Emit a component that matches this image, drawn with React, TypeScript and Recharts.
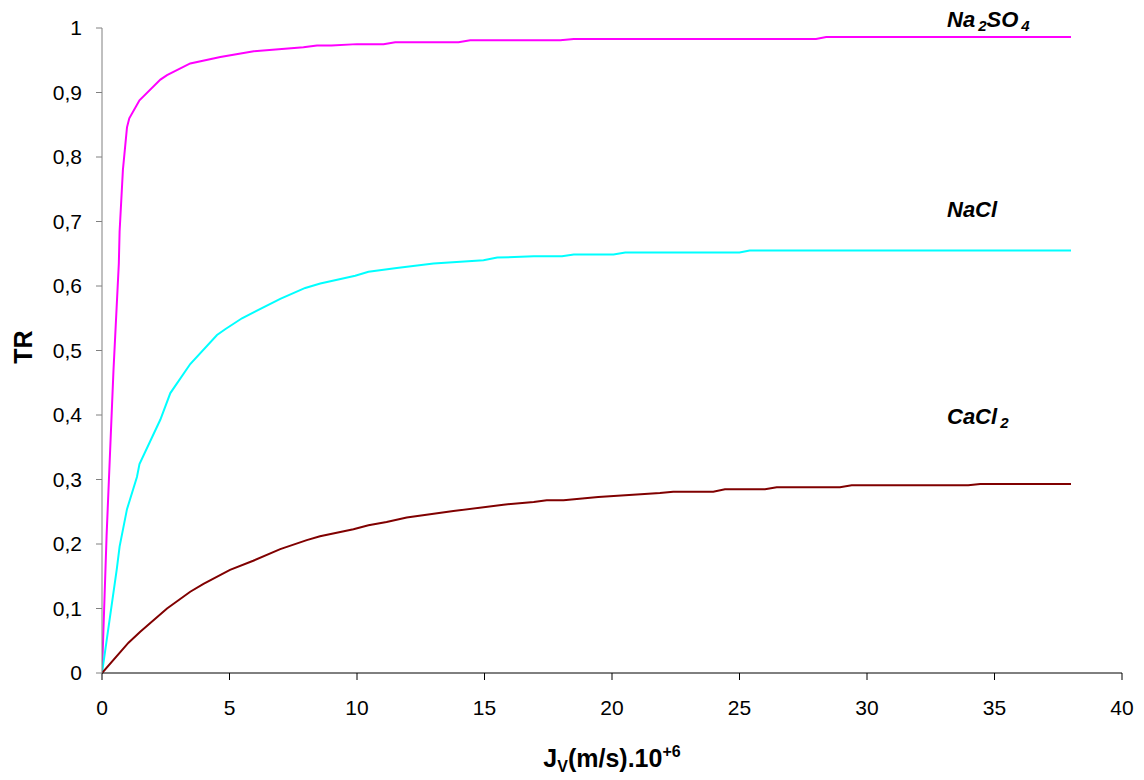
import { LineChart, Line, XAxis, YAxis, Customized } from "recharts";

// Na2SO4 (magenta)
const na2so4J = [0, 0.18, 0.45, 0.66, 0.69, 0.82, 0.98, 1.07, 1.47, 2.29, 2.55, 3.46, 4.64, 5.95, 7.9, 8.43, 9.0, 10.0, 11.04, 11.5, 13.98, 14.44, 17.97, 18.5, 28.0, 28.4, 38.0];
const na2so4TR = [0, 0.213, 0.469, 0.635, 0.684, 0.78, 0.846, 0.86, 0.888, 0.92, 0.927, 0.945, 0.955, 0.964, 0.97, 0.973, 0.973, 0.975, 0.975, 0.978, 0.978, 0.981, 0.981, 0.983, 0.983, 0.986, 0.986];

// NaCl (cyan)
const naclJ = [0, 0.58, 0.69, 0.98, 1.37, 1.47, 2.29, 2.68, 3.46, 4.51, 4.83, 5.49, 6.99, 7.97, 8.56, 9.93, 10.45, 11.56, 13.0, 14.96, 15.5, 16.93, 18.04, 18.5, 20.06, 20.52, 25.0, 25.4, 38.0];
const naclTR = [0, 0.161, 0.196, 0.254, 0.304, 0.324, 0.393, 0.434, 0.479, 0.524, 0.533, 0.55, 0.58, 0.597, 0.604, 0.616, 0.622, 0.628, 0.635, 0.64, 0.644, 0.646, 0.646, 0.649, 0.649, 0.652, 0.652, 0.655, 0.655];

// CaCl2 (dark red)
const cacl2J = [0, 1.04, 1.5, 2.55, 3.46, 3.98, 5.02, 5.93, 6.99, 8.03, 8.55, 9.86, 10.45, 11.16, 11.95, 13.78, 15.74, 16.93, 17.44, 18.1, 19.46, 21.88, 22.4, 23.97, 24.43, 26.0, 26.46, 28.94, 29.4, 33.97, 34.44, 38.0];
const cacl2TR = [0, 0.047, 0.064, 0.1, 0.126, 0.138, 0.16, 0.174, 0.192, 0.206, 0.212, 0.223, 0.229, 0.234, 0.241, 0.251, 0.261, 0.265, 0.268, 0.268, 0.273, 0.279, 0.281, 0.281, 0.285, 0.285, 0.288, 0.288, 0.291, 0.291, 0.293, 0.293];

const xTicks = [0, 5, 10, 15, 20, 25, 30, 35, 40];
const yTicks = [0, 0.1, 0.2, 0.3, 0.4, 0.5, 0.6, 0.7, 0.8, 0.9, 1];

const FONT = '"Liberation Sans", Arial, sans-serif';

const toPoints = (js: number[], trs: number[]) => js.map((j, i) => ({ j, tr: trs[i] }));

const comma = (v: number) => String(v).replace(".", ",");

function Annotations() {
  const lbl = { fontFamily: FONT, fontSize: 22, fontWeight: 700, fontStyle: "italic", fill: "#000" };
  return (
    <g>
      <text x={939} y={19} {...lbl}>
        Na<tspan dx={3} dy={4} fontSize={15}>2</tspan>
        <tspan dy={-4}>SO</tspan>
        <tspan dx={3} dy={4} fontSize={15}>4</tspan>
      </text>
      <text x={939} y={209} {...lbl}>NaCl</text>
      <text x={939} y={416} {...lbl}>
        CaCl<tspan dx={3} dy={4} fontSize={15}>2</tspan>
      </text>

      <text x={604} y={759} textAnchor="middle" fontFamily={FONT} fontSize={25} fontWeight={700} fill="#000">
        J<tspan dy={5} fontSize={16}>V</tspan>
        <tspan dy={-5}>(m/s).10</tspan>
        <tspan dy={-10} fontSize={16}>+6</tspan>
      </text>

      <text
        x={24}
        y={339}
        textAnchor="middle"
        transform="rotate(-90, 24, 339)"
        fontFamily={FONT}
        fontSize={25}
        fontWeight={700}
        fill="#000"
      >
        TR
      </text>
    </g>
  );
}

export default function App() {
  return (
    <LineChart
      width={1136}
      height={770}
      margin={{ top: 20, right: 22, left: 34, bottom: 15 }}
      style={{ fontFamily: FONT }}
    >
      <XAxis
        dataKey="j"
        type="number"
        domain={[0, 40]}
        ticks={xTicks}
        allowDataOverflow
        height={90}
        tickSize={7}
        tickMargin={20}
        stroke="#000"
        tick={{ fill: "#000", fontSize: 21 }}
      />
      <YAxis
        type="number"
        domain={[0, 1]}
        ticks={yTicks}
        width={60}
        tickSize={6}
        tickMargin={14}
        stroke="#808080"
        tick={{ fill: "#000", fontSize: 21 }}
        tickFormatter={comma}
      />
      <Line
        data={toPoints(na2so4J, na2so4TR)}
        dataKey="tr"
        type="linear"
        stroke="#FF00FF"
        strokeWidth={2}
        dot={false}
        isAnimationActive={false}
      />
      <Line
        data={toPoints(naclJ, naclTR)}
        dataKey="tr"
        type="linear"
        stroke="#00FFFF"
        strokeWidth={2}
        dot={false}
        isAnimationActive={false}
      />
      <Line
        data={toPoints(cacl2J, cacl2TR)}
        dataKey="tr"
        type="linear"
        stroke="#800000"
        strokeWidth={2}
        dot={false}
        isAnimationActive={false}
      />
      <Customized component={<Annotations />} />
    </LineChart>
  );
}
